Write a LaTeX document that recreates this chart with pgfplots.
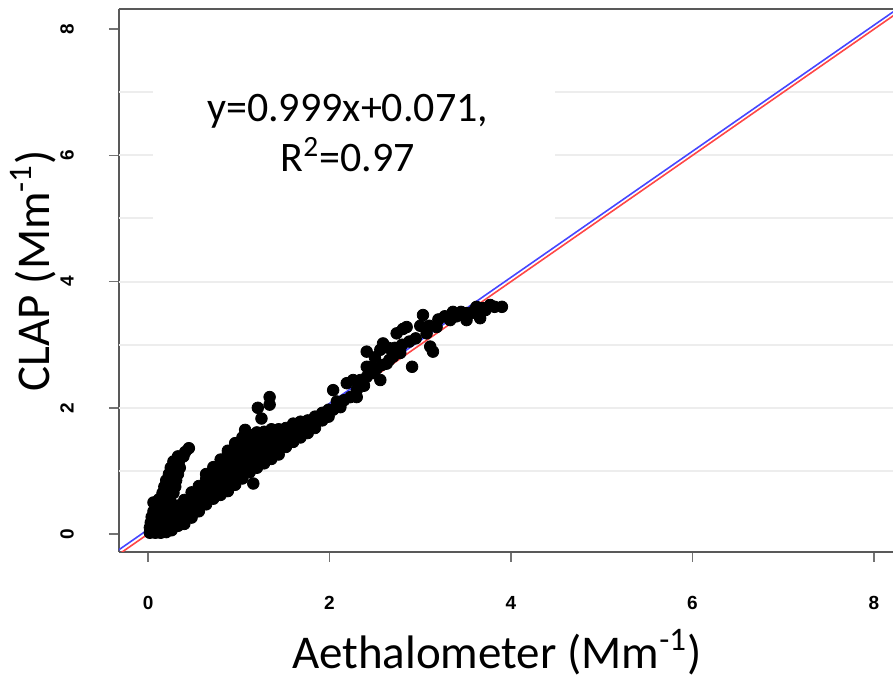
\documentclass[border=0pt]{standalone}
\usepackage{fontspec}
\setmainfont{Carlito}
\newfontfamily\tickfont{Liberation Sans}
\usepackage{pgfplots}
\pgfplotsset{compat=1.18}
\definecolor{fitblue}{RGB}{70,70,255}
\definecolor{oneone}{RGB}{255,70,70}
\begin{document}
\begin{tikzpicture}
\begin{axis}[
    scale only axis, width=387pt, height=271.5pt,
    xmin=-0.32, xmax=8.21, ymin=-0.285, ymax=8.32,
    axis x line=box, axis y line=left,
    axis line style={-, black!65, line width=0.9pt},
    xtick={0,2,4,6,8}, ytick={0,2,4,6,8},
    minor tick num=0,
    tick align=outside, major tick length=5pt,
    tick style={black!55, line width=0.7pt},
    xtick pos=bottom, ytick pos=left,
    /pgf/number format/assume math mode=true,
    ticklabel style={font=\tickfont\bfseries\fontsize{9.5}{11}\selectfont},
    xticklabel style={anchor=center, yshift=-20.5pt},
    yticklabel style={anchor=center, xshift=-21pt, rotate=90},
    extra y ticks={1,2,3,4,5,6,7},
    extra y tick labels={},
    extra y tick style={grid=major, major tick length=0pt, major grid style={black!7, line width=1pt}},
    xlabel={Aethalometer (Mm\textsuperscript{-1})},
    ylabel={CLAP (Mm\textsuperscript{-1})},
    label style={font=\fontsize{23.5}{28}\selectfont},
    xlabel style={at={(axis description cs:0.488,-0.185)}, anchor=center},
    ylabel style={at={(axis description cs:-0.111,0.518)}, anchor=center},
]
% white area behind the equation
\fill[white] (axis cs:0.055,4.5) rectangle (axis cs:4.48,7.51);
% measurements
\addplot[only marks, mark=*, mark size=2.9pt, black] coordinates {
(0.02,0.02) (0.08,0.02) (0.14,0.02) (0.2,0.03) (0.26,0.06)
(0.02,0.1) (0.08,0.1) (0.14,0.1) (0.2,0.1) (0.27,0.11) (0.33,0.13)
(0.03,0.18) (0.09,0.18) (0.15,0.18) (0.21,0.18) (0.27,0.18) (0.33,0.19)
(0.04,0.27) (0.1,0.27) (0.16,0.27) (0.22,0.27) (0.28,0.27) (0.34,0.27)
(0.06,0.36) (0.12,0.36) (0.18,0.36) (0.24,0.36) (0.3,0.36)
(0.08,0.45) (0.14,0.45) (0.2,0.45) (0.26,0.45) (0.32,0.45) (0.06,0.5)
(0.12,0.55) (0.18,0.55) (0.24,0.55)
(0.16,0.65) (0.22,0.65) (0.28,0.65)
(0.18,0.75) (0.24,0.75) (0.3,0.75)
(0.2,0.85) (0.26,0.85) (0.31,0.85)
(0.23,0.95) (0.29,0.95) (0.33,0.95)
(0.25,1.05) (0.31,1.05) (0.35,1.05)
(0.28,1.15) (0.34,1.15)
(0.33,1.23) (0.39,1.23) (0.41,1.3) (0.45,1.36)
(0.40,0.16) (0.40,0.26) (0.40,0.36) (0.40,0.46) (0.40,0.54)
(0.48,0.26) (0.48,0.36) (0.48,0.46) (0.48,0.56) (0.48,0.66)
(0.56,0.36) (0.56,0.46) (0.56,0.56) (0.56,0.66) (0.56,0.76)
(0.64,0.47) (0.64,0.57) (0.64,0.67) (0.64,0.77) (0.64,0.87) (0.64,0.95)
(0.72,0.56) (0.72,0.66) (0.72,0.76) (0.72,0.86) (0.72,0.96) (0.72,1.06)
(0.80,0.62) (0.80,0.72) (0.80,0.82) (0.80,0.92) (0.80,1.02) (0.80,1.12) (0.80,1.18)
(0.88,0.68) (0.88,0.78) (0.88,0.88) (0.88,0.98) (0.88,1.08) (0.88,1.18) (0.88,1.28) (0.88,1.32)
(0.96,0.78) (0.96,0.88) (0.96,0.98) (0.96,1.08) (0.96,1.18) (0.96,1.28) (0.96,1.38) (0.96,1.44)
(1.04,0.88) (1.04,0.98) (1.04,1.08) (1.04,1.18) (1.04,1.28) (1.04,1.38) (1.04,1.48) (1.04,1.53)
(1.12,0.98) (1.12,1.08) (1.12,1.18) (1.12,1.28) (1.12,1.38) (1.12,1.48) (1.12,1.57)
(1.20,1.05) (1.20,1.15) (1.20,1.25) (1.20,1.35) (1.20,1.45) (1.20,1.55) (1.20,1.61)
(1.28,1.12) (1.28,1.22) (1.28,1.32) (1.28,1.42) (1.28,1.52) (1.28,1.62)
(1.36,1.19) (1.36,1.29) (1.36,1.39) (1.36,1.49) (1.36,1.59) (1.36,1.66)
(1.44,1.26) (1.44,1.36) (1.44,1.46) (1.44,1.56) (1.44,1.66)
(1.52,1.38) (1.52,1.48) (1.52,1.58) (1.52,1.68)
(1.60,1.46) (1.60,1.56) (1.60,1.66) (1.60,1.75)
(1.68,1.53) (1.68,1.63) (1.68,1.73) (1.68,1.78)
(1.76,1.6) (1.76,1.7) (1.76,1.8)
(1.84,1.68) (1.84,1.78) (1.84,1.86)
(1.92,1.8) (1.92,1.92) (1.99,1.86) (1.99,1.97)
(1.16,0.8) (1.07,1.65) (1.21,2.0) (1.25,1.83) (1.34,2.17) (1.34,2.05)
(2.04,1.97) (2.12,2.01) (2.04,2.28) (2.08,2.1) (2.16,2.12) (2.23,2.17) (2.3,2.17)
(2.19,2.39) (2.26,2.44) (2.34,2.44) (2.3,2.28) (2.38,2.35) (2.41,2.49) (2.48,2.55)
(2.45,2.65) (2.41,2.65) (2.52,2.62) (2.56,2.44) (2.58,2.68) (2.63,2.7) (2.66,2.76)
(2.70,2.81) (2.78,2.87) (2.41,2.89) (2.56,2.92) (2.59,3.02) (2.5,2.8) (2.65,2.95)
(2.72,2.95) (2.8,3.0) (2.88,3.05) (2.95,3.1) (2.91,2.65)
(2.74,3.18) (2.85,3.28) (2.81,3.25) (3.03,3.47) (3.07,3.18) (3.0,3.3) (3.1,3.3)
(3.11,2.97) (3.14,2.89) (3.18,3.28) (3.2,3.4) (3.27,3.45) (3.33,3.39) (3.36,3.52)
(3.4,3.45) (3.45,3.52) (3.51,3.5) (3.51,3.39) (3.56,3.5) (3.6,3.55) (3.62,3.6)
(3.66,3.42) (3.69,3.58) (3.72,3.55) (3.77,3.63) (3.82,3.6) (3.9,3.6)
};
% fit and 1:1 lines
\addplot[oneone, line width=0.8pt] coordinates {(-0.5,-0.5) (8.5,8.5)};
\addplot[fitblue, line width=0.8pt] coordinates {(-0.5,-0.4285) (8.5,8.5625)};
\node[align=center, font=\fontsize{21}{25}\selectfont] at (axis cs:2.2,6.35)
  {y=0.999x+0.071,\\R\textsuperscript{2}=0.97};
\end{axis}
\pgfresetboundingbox
\path (-59.5pt,-63.5pt) rectangle (387pt,276pt);
\end{tikzpicture}
\end{document}
